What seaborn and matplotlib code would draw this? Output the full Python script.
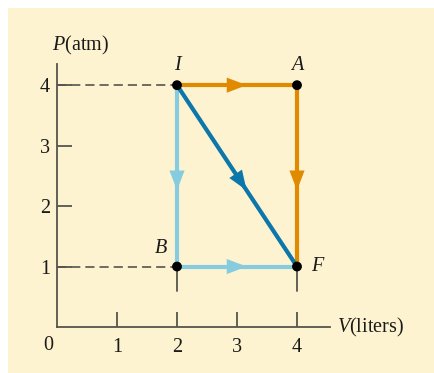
import numpy as np
import pandas as pd
import matplotlib
matplotlib.use("Agg")
import matplotlib.pyplot as plt
from matplotlib.patches import Rectangle
import seaborn as sns

# states on the PV diagram
states = ["I", "A", "B", "F"]
volume = [2, 4, 2, 4]       # liters
pressure = [4, 4, 1, 1]     # atm

# the three paths from I to F
paths = {
    "IAF": ["I", "A", "F"],
    "IBF": ["I", "B", "F"],
    "IF": ["I", "F"],
}
path_colors = {"IAF": "#E08A00", "IBF": "#86CCE0", "IF": "#0B77AA"}

x_ticks = [1, 2, 3, 4]
y_ticks = [1, 2, 3, 4]

sns.set_theme(style="ticks")
plt.rcParams["font.family"] = ["Liberation Serif", "DejaVu Serif"]
plt.rcParams["mathtext.fontset"] = "custom"
plt.rcParams["mathtext.rm"] = "Liberation Serif"
plt.rcParams["mathtext.it"] = "Liberation Serif:italic"

pts = pd.DataFrame({"state": states, "V": volume, "P": pressure}).set_index("state")

rows = []
for name, seq in paths.items():
    for k, s in enumerate(seq):
        rows.append({"path": name, "order": k, "V": pts.loc[s, "V"], "P": pts.loc[s, "P"]})
df = pd.DataFrame(rows)

fig = plt.figure(figsize=(4.34, 3.73), dpi=100, facecolor="white")
fig.add_artist(Rectangle((8 / 434, 0), 1, (373 - 8) / 373, transform=fig.transFigure,
                         facecolor="#FEF3D0", edgecolor="none", zorder=-5))
ax = fig.add_axes([57 / 434, 46 / 373, 273 / 434, 263 / 373])
ax.set_zorder(2)
ax.set_facecolor("none")
ax.set_xlim(0, 4.55)
ax.set_ylim(0, 4.35)

gray = "#55554d"
ink = "#1a1a1a"

# dashed guides to the axes
for s in ["I", "B"]:
    ax.plot([0, pts.loc[s, "V"]], [pts.loc[s, "P"]] * 2, color=gray, lw=1.2,
            linestyle=(0, (5.5, 3)), zorder=1)
for s in ["B", "F"]:
    ax.plot([pts.loc[s, "V"]] * 2, [pts.loc[s, "P"], 0.6], color=gray, lw=1.3, zorder=1)

for name in ["IBF", "IAF", "IF"]:
    sub = df[df["path"] == name]
    sns.lineplot(data=sub, x="V", y="P", sort=False, estimator=None, color=path_colors[name],
                 lw=3.0, ax=ax, legend=False, zorder=2)
    seq = paths[name]
    for a, b in zip(seq[:-1], seq[1:]):
        p0 = np.array([pts.loc[a, "V"], pts.loc[a, "P"]], dtype=float)
        p1 = np.array([pts.loc[b, "V"], pts.loc[b, "P"]], dtype=float)
        tip = p0 + 0.58 * (p1 - p0)
        tail = p0 + 0.42 * (p1 - p0)
        ax.annotate("", xy=tip, xytext=tail,
                    arrowprops=dict(arrowstyle="-|>,head_length=1.1,head_width=0.42",
                                    color=path_colors[name], lw=0, mutation_scale=13,
                                    shrinkA=0, shrinkB=0), zorder=3)

sns.scatterplot(data=pts.reset_index(), x="V", y="P", color="black", s=50,
                edgecolor="none", ax=ax, zorder=4, legend=False)

# state labels
offsets = {"I": (0, 14), "A": (0, 14), "B": (-11.5, 13), "F": (14.5, 0)}
for s in states:
    ax.annotate(s, (pts.loc[s, "V"], pts.loc[s, "P"]), xytext=offsets[s],
                textcoords="offset points", ha="center", va="center",
                fontsize=14.5, style="italic", color=ink)

sns.despine(ax=ax)
for side in ["left", "bottom"]:
    ax.spines[side].set_color(gray)
    ax.spines[side].set_linewidth(1.3)
ax.set_xticks(x_ticks)
ax.set_yticks(y_ticks)
ax.tick_params(axis="both", direction="in", length=10.5, width=1.3, color=gray,
               labelsize=14.5, labelcolor=ink)
ax.tick_params(axis="x", pad=8)
ax.tick_params(axis="y", pad=5)
ax.set_xlabel("")
ax.set_ylabel("")

ax.text(-0.15, -0.3, "0", ha="center", va="center", fontsize=14.5, color=ink)
ax.text(-0.08, 4.66, r"$\mathit{P}$(atm)", ha="left", va="center", fontsize=14.5,
        color=ink, clip_on=False)
ax.text(4.67, 0, r"$\mathit{V}$(liters)", ha="left", va="center", fontsize=14.5,
        color=ink, clip_on=False)

fig.savefig("out.png", dpi=100, facecolor="white")
